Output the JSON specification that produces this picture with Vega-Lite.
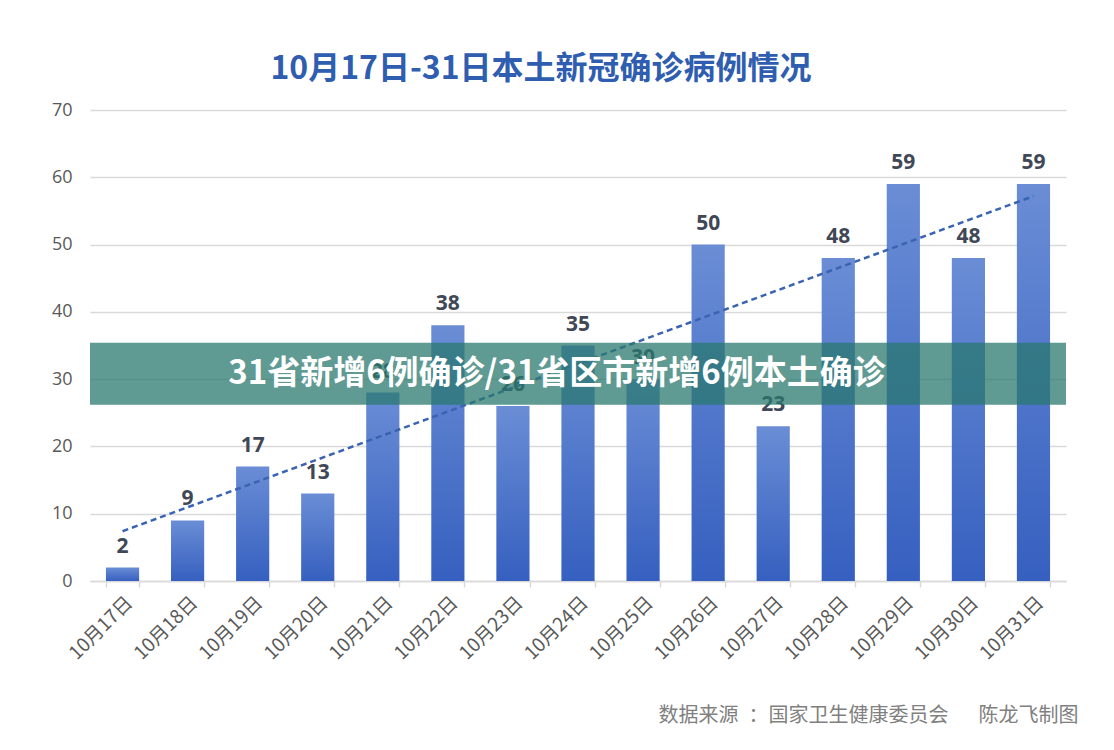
{
  "$schema": "https://vega.github.io/schema/vega-lite/v6.json",
  "width": 976,
  "height": 471,
  "autosize": {"type": "none"},
  "padding": {"left": 90, "top": 110, "right": 48, "bottom": 169},
  "background": "#ffffff",
  "view": {"stroke": null},
  "title": {
    "text": "10月17日-31日本土新冠确诊病例情况",
    "font": "Noto Sans CJK SC",
    "fontSize": 32,
    "fontWeight": "bold",
    "color": "#2F5DB0",
    "anchor": "middle",
    "dx": -37,
    "offset": 15
  },
  "datasets": {
    "cases": [
      {"date": "10月17日", "cases": 2},
      {"date": "10月18日", "cases": 9},
      {"date": "10月19日", "cases": 17},
      {"date": "10月20日", "cases": 13},
      {"date": "10月21日", "cases": 28},
      {"date": "10月22日", "cases": 38},
      {"date": "10月23日", "cases": 26},
      {"date": "10月24日", "cases": 35},
      {"date": "10月25日", "cases": 30},
      {"date": "10月26日", "cases": 50},
      {"date": "10月27日", "cases": 23},
      {"date": "10月28日", "cases": 48},
      {"date": "10月29日", "cases": 59},
      {"date": "10月30日", "cases": 48},
      {"date": "10月31日", "cases": 59}
    ],
    "trend": [
      {"date": "10月17日", "trend": 7.4},
      {"date": "10月31日", "trend": 57.2}
    ],
    "banner": [
      {"lo": 26.2, "hi": 35.4, "mid": 30.8, "label": "31省新增6例确诊/31省区市新增6例本土确诊"}
    ]
  },
  "layer": [
    {
      "data": {"name": "cases"},
      "mark": {
        "type": "bar",
        "color": {
          "gradient": "linear",
          "x1": 0, "y1": 0, "x2": 0, "y2": 1,
          "stops": [
            {"offset": 0, "color": "#6A8DD5"},
            {"offset": 1, "color": "#3660C0"}
          ]
        }
      },
      "encoding": {
        "x": {
          "field": "date",
          "type": "nominal",
          "sort": null,
          "scale": {"paddingInner": 0.49, "paddingOuter": 0.245},
          "axis": {
            "title": "数据来源\u2002：国家卫生健康委员会\u3000\u2002陈龙飞制图",
            "titleFont": "Noto Sans CJK SC",
            "titleFontSize": 20,
            "titleFontWeight": "normal",
            "titleColor": "#808080",
            "titleAnchor": "end",
            "titleAlign": "right",
            "titleX": 988,
            "titlePadding": 42,
            "labelAngle": -45,
            "labelFont": "Noto Sans CJK SC",
            "labelFontSize": 19,
            "labelColor": "#595959",
            "labelPadding": 6,
            "domainColor": "#D9D9D9",
            "domainWidth": 1.5,
            "tickColor": "#D9D9D9",
            "tickBand": "extent",
            "tickSize": 6,
            "tickWidth": 1.5
          }
        },
        "y": {
          "field": "cases",
          "type": "quantitative",
          "scale": {"domain": [0, 70]},
          "axis": {
            "title": null,
            "values": [0, 10, 20, 30, 40, 50, 60, 70],
            "domain": false,
            "ticks": false,
            "gridColor": "#D9D9D9",
            "gridWidth": 1.5,
            "labelFont": "Open Sans",
            "labelFontSize": 18,
            "labelColor": "#595959",
            "labelPadding": 18
          }
        }
      }
    },
    {
      "data": {"name": "cases"},
      "mark": {
        "type": "text",
        "baseline": "bottom",
        "dy": -11,
        "font": "Open Sans",
        "fontSize": 21,
        "fontWeight": "bold",
        "color": "#404756"
      },
      "encoding": {
        "x": {"field": "date", "type": "nominal", "sort": null},
        "y": {"field": "cases", "type": "quantitative"},
        "text": {"field": "cases", "type": "quantitative"}
      }
    },
    {
      "data": {"name": "trend"},
      "mark": {
        "type": "line",
        "color": "#3A64B2",
        "strokeWidth": 2.5,
        "strokeDash": [6, 4]
      },
      "encoding": {
        "x": {"field": "date", "type": "nominal", "sort": null},
        "y": {"field": "trend", "type": "quantitative"}
      }
    },
    {
      "data": {"name": "banner"},
      "mark": {"type": "rect", "color": "#29786F", "opacity": 0.75},
      "encoding": {
        "y": {"field": "hi", "type": "quantitative"},
        "y2": {"field": "lo"}
      }
    },
    {
      "data": {"name": "banner"},
      "mark": {
        "type": "text",
        "font": "Noto Sans CJK SC",
        "fontSize": 33,
        "fontWeight": "bold",
        "color": "#ffffff",
        "dx": -21
      },
      "encoding": {
        "y": {"field": "mid", "type": "quantitative"},
        "text": {"field": "label"}
      }
    }
  ]
}
